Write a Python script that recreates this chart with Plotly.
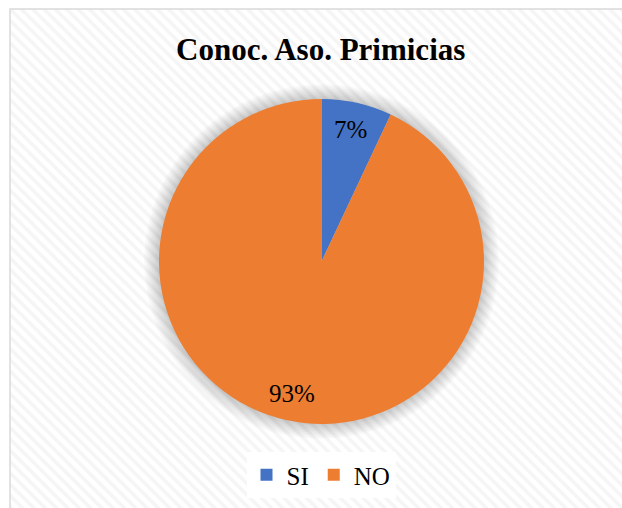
import math
import plotly.graph_objects as go

# Survey answers: do respondents know the "Aso. Primicias" association?
labels = ["SI", "NO"]
values = [7, 93]
colors = ["#4472C4", "#ED7D31"]
title_text = "Conoc. Aso. Primicias"

W, H = 622, 508
cx, cy, r = 321.5, 261.5, 162.5   # pie centre / radius in pixels (from top-left)
frame_x, frame_y = 10, 9            # chart frame's top-left corner

def pie_domain(radius):
    return dict(
        x=[(cx - radius) / W, (cx + radius) / W],
        y=[(H - cy - radius) / H, (H - cy + radius) / H],
    )

fig = go.Figure()

# hatched chart-area background
fig.add_trace(go.Bar(
    x=[0], y=[1], width=[1],
    marker=dict(
        color="white",
        line=dict(width=0),
        pattern=dict(shape="\\", size=8, solidity=0.45,
                     fgcolor="#ececec", bgcolor="white"),
    ),
    hoverinfo="skip", showlegend=False,
))

# soft glow behind the pie
for k in range(10, 0, -1):
    fig.add_trace(go.Pie(
        values=[1], labels=["shadow"], domain=pie_domain(r + 1.5 * k),
        marker=dict(colors=["rgba(0,0,0,0.02)"], line=dict(width=0)),
        textinfo="none", hoverinfo="skip", showlegend=False, sort=False,
    ))

fig.add_trace(go.Pie(
    labels=labels, values=values, domain=pie_domain(r),
    marker=dict(colors=colors, line=dict(width=0)),
    sort=False, direction="clockwise", rotation=0,
    textinfo="none", hoverinfo="label+percent",
))

# percentage labels placed near the outer end of each slice
total = sum(values)
start = 0.0
for lab, v in zip(labels, values):
    mid = (start + v / 2) / total * 2 * math.pi
    start += v
    rr = r * 0.83
    px = cx + rr * math.sin(mid)
    py = cy - rr * math.cos(mid)
    fig.add_annotation(
        x=px / W, y=1 - py / H, xref="paper", yref="paper",
        text=f"{round(v / total * 100)}%", showarrow=False,
        font=dict(family="Liberation Serif", size=25, color="#000000"),
        xanchor="center", yanchor="middle",
    )

fig.add_annotation(
    x=320 / W, y=1 - 49 / H, xref="paper", yref="paper",
    text=title_text, showarrow=False,
    font=dict(family="Liberation Serif", size=31, color="#000000", weight="bold"),
    xanchor="center", yanchor="middle",
)

# chart frame
fig.add_shape(type="rect", xref="paper", yref="paper",
              x0=frame_x / W, x1=1.02, y0=-0.02, y1=1 - frame_y / H,
              line=dict(color="#d9d9d9", width=1.5), fillcolor="rgba(0,0,0,0)")

fig.update_layout(
    width=W, height=H,
    margin=dict(l=0, r=0, t=0, b=0),
    paper_bgcolor="white", plot_bgcolor="white",
    xaxis=dict(domain=[frame_x / W, 1], range=[-0.5, 0.5], visible=False, fixedrange=True),
    yaxis=dict(domain=[0, 1 - frame_y / H], range=[0, 1], visible=False, fixedrange=True),
    bargap=0,
    showlegend=True,
    legend=dict(
        orientation="h", x=0.5 + 10 / W, xanchor="center", y=1 - 475 / H, yanchor="middle",
        bgcolor="white", font=dict(family="Liberation Serif", size=25, color="#000000"),
        itemwidth=30,
    ),
)

fig.write_html("out.html")
